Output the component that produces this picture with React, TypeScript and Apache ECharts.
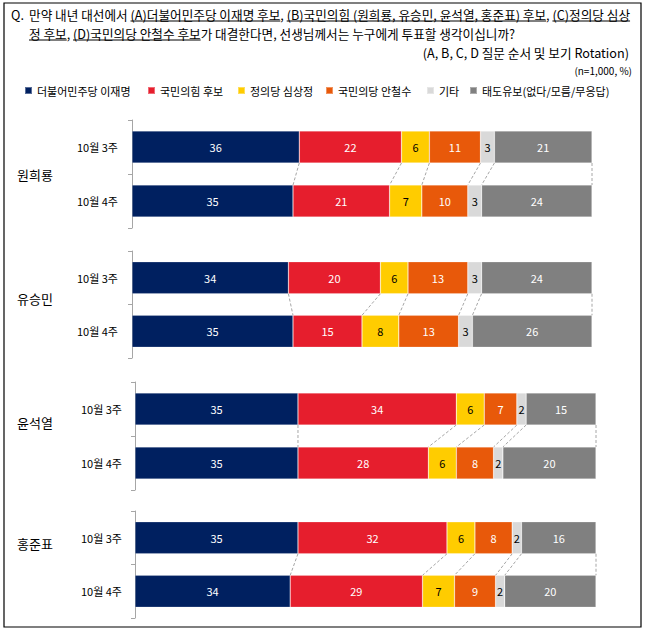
import * as echarts from 'echarts';
import { useEffect, useRef } from 'react';

// rows: 원희룡 3주, 4주, 유승민 3주, 4주, 윤석열 3주, 4주, 홍준표 3주, 4주
const candidates = ['원희룡', '유승민', '윤석열', '홍준표'];
const weeks = ['10월 3주', '10월 4주'];
const seriesNames = ['더불어민주당 이재명', '국민의힘 후보', '정의당 심상정', '국민의당 안철수', '기타', '태도유보(없다/모름/무응답)'];
const leeJaeMyung = [36, 35, 34, 35, 35, 35, 35, 34];
const pppCandidate = [22, 21, 20, 15, 34, 28, 32, 29];
const simSangJung = [6, 7, 6, 8, 6, 6, 6, 7];
const ahnCheolSoo = [11, 10, 13, 13, 7, 8, 8, 9];
const others = [3, 3, 3, 3, 2, 2, 2, 2];
const undecided = [21, 24, 24, 26, 15, 20, 16, 20];

const seriesValues = [leeJaeMyung, pppCandidate, simSangJung, ahnCheolSoo, others, undecided];
const colors = ['#002060', '#E61E2D', '#FFCC00', '#E8590A', '#D9D9D9', '#808080'];
const labelColors = ['#fff', '#fff', '#000', '#fff', '#000', '#fff'];

const FONT = '"Noto Sans CJK KR", "Noto Sans", sans-serif';

const title1 = '만약 내년 대선에서 (A)더불어민주당 이재명 후보, (B)국민의힘 (원희룡, 유승민, 윤석열, 홍준표) 후보, (C)정의당 심상';
const title2 = '정 후보, (D)국민의당 안철수 후보가 대결한다면, 선생님께서는 누구에게 투표할 생각이십니까?';
const under1 = ['(A)더불어민주당 이재명 후보', '(B)국민의힘 (원희룡, 유승민, 윤석열, 홍준표) 후보', '(C)정의당 심상'];
const under2 = ['정 후보', '(D)국민의당 안철수 후보'];

const grids = [
  { left: 132, top: 120, width: 460, height: 108, margin: 14 },
  { left: 132, top: 251, width: 460, height: 107, margin: 14 },
  { left: 135, top: 382, width: 461, height: 108, margin: 13 },
  { left: 135, top: 511, width: 461, height: 107, margin: 13 },
];
const legendLeft = [24, 147, 237, 325, 426, 469];
const groupLabelY = [174, 298, 422, 543];
const BAR = 32;

function rowTotal(r: number) {
  return seriesValues.reduce((s, arr) => s + arr[r], 0);
}

function norm(i: number, r: number) {
  return (seriesValues[i][r] / rowTotal(r)) * 100;
}

export default function App() {
  const elRef = useRef<HTMLDivElement | null>(null);

  useEffect(() => {
    if (!elRef.current) return;
    const chart = echarts.init(elRef.current, undefined, { renderer: 'svg' });

    const ctx = document.createElement('canvas').getContext('2d')!;
    const titleSize = 12.65;
    ctx.font = `${titleSize}px ${FONT}`;
    const w = (s: string) => ctx.measureText(s).width;

    const textX = 29;
    const underlines: any[] = [];
    const addUnder = (line: string, subs: string[], y: number) => {
      subs.forEach((sub) => {
        const i = line.indexOf(sub);
        const x1 = textX + w(line.slice(0, i));
        const x2 = x1 + w(sub);
        underlines.push({
          type: 'line',
          shape: { x1, y1: y, x2, y2: y },
          style: { stroke: '#000', lineWidth: 1 },
        });
      });
    };
    addUnder(title1, under1, 21);
    addUnder(title2, under2, 40);

    const txt = (text: string, x: number, y: number, size: number, align = 'left') => ({
      type: 'text',
      x,
      y,
      style: { text, fontSize: size, fontFamily: FONT, fill: '#000', align, verticalAlign: 'middle' },
    });

    const series: any[] = [];
    grids.forEach((_, k) => {
      seriesValues.forEach((_arr, i) => {
        series.push({
          type: 'bar',
          name: seriesNames[i],
          xAxisIndex: k,
          yAxisIndex: k,
          stack: 'g' + k,
          barWidth: BAR,
          itemStyle: { color: colors[i], borderColor: 'rgba(255,255,255,0.35)', borderWidth: 0.6 },
          label: {
            show: true,
            position: 'inside',
            color: labelColors[i],
            fontSize: 11,
            fontFamily: FONT,
            formatter: (p: any) => String(seriesValues[i][2 * k + p.dataIndex]),
          },
          data: [norm(i, 2 * k), norm(i, 2 * k + 1)],
        });
      });
      // dashed series lines between the two weeks
      const lineData: number[][] = [];
      let cTop = 0;
      let cBot = 0;
      seriesValues.forEach((_arr, i) => {
        cTop += norm(i, 2 * k);
        cBot += norm(i, 2 * k + 1);
        lineData.push([cTop, cBot, 0]);
      });
      series.push({
        type: 'custom',
        name: 'serieslines' + k,
        xAxisIndex: k,
        yAxisIndex: k,
        dimensions: ['top', 'bot', 'cat'],
        encode: { x: [0, 1], y: 2 },
        clip: false,
        silent: true,
        renderItem: (_p: any, api: any) => {
          const a = api.coord([api.value(0), 0]);
          const b = api.coord([api.value(1), 1]);
          return {
            type: 'line',
            shape: { x1: a[0], y1: a[1] + BAR / 2, x2: b[0], y2: b[1] - BAR / 2 },
            style: { stroke: '#A6A6A6', lineWidth: 1, lineDash: [3, 2] },
          };
        },
        data: lineData,
      });
    });

    chart.setOption({
      animation: false,
      textStyle: { fontFamily: FONT },
      legend: seriesNames.map((name, i) => ({
        data: [name],
        left: legendLeft[i],
        top: 85,
        padding: 0,
        icon: 'rect',
        itemWidth: 7,
        itemHeight: 7,
        textStyle: { fontSize: 11, color: '#000', fontFamily: FONT },
        selectedMode: false,
      })),
      grid: grids.map((g) => ({ left: g.left, top: g.top, width: g.width, height: g.height })),
      xAxis: grids.map((_, k) => ({ type: 'value', gridIndex: k, min: 0, max: 100, show: false })),
      yAxis: grids.map((g, k) => ({
        type: 'category',
        gridIndex: k,
        inverse: true,
        data: weeks,
        axisLine: { show: true, lineStyle: { color: '#A6A6A6', width: 1 } },
        axisTick: { show: true, length: 4, inside: false, lineStyle: { color: '#A6A6A6' } },
        axisLabel: { margin: g.margin, fontSize: 11, color: '#000', fontFamily: FONT },
      })),
      graphic: [
        {
          type: 'rect',
          shape: { x: 4, y: 3, width: 637, height: 624 },
          style: { fill: 'none', stroke: '#000', lineWidth: 1.2 },
        },
        txt('Q.', 11, 14, titleSize),
        txt(title1, textX, 14, titleSize),
        txt(title2, textX, 33, titleSize),
        ...underlines,
        txt('(A, B, C, D 질문 순서 및 보기 Rotation)', 629, 52, titleSize, 'right'),
        txt('(n=1,000, %)', 632, 70, 10, 'right'),
        ...candidates.map((c, k) => txt(c, 17, groupLabelY[k], 13)),
      ],
      series,
    });

    return () => {
      chart.dispose();
    };
  }, []);

  return <div ref={elRef} style={{ position: 'fixed', left: 0, top: 0, width: 646, height: 633, background: '#fff' }} />;
}
